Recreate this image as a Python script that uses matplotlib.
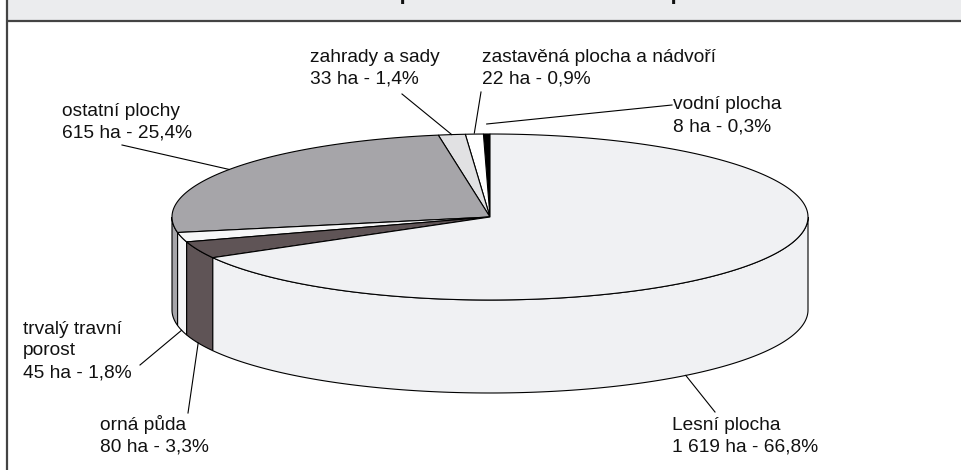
import numpy as np
import matplotlib
matplotlib.use("Agg")
import matplotlib.pyplot as plt
from matplotlib.patches import Polygon, Rectangle

plt.rcParams['font.family'] = ['Liberation Sans', 'DejaVu Sans']

# data, counter-clockwise from 12 o'clock
categories = ["vodní plocha", "zastavěná plocha a nádvoří", "zahrady a sady",
              "ostatní plochy", "trvalý travní\nporost", "orná půda", "Lesní plocha"]
hectares = [8, 22, 33, 615, 45, 80, 1619]
ha_labels = ["8", "22", "33", "615", "45", "80", "1 619"]
pct_labels = ["0,3%", "0,9%", "1,4%", "25,4%", "1,8%", "3,3%", "66,8%"]
colors = ["#000000", "#ffffff", "#e1e1e3", "#a6a5a9", "#f6f6f7", "#5f5456", "#f0f1f3"]
title = "Struktura ploch v území města Šumperk"

# layout (pixels)
W, H = 962, 470
cx, cy = 490, 217
ra, rb = 318, 83
depth = 93
# label text position (last baseline), leader start, anchor angle override
label_pos = [(673, 131), (482, 84), (310, 84), (62, 138), (23, 377), (100, 452), (672, 452)]
leader_from = [(672, 105), (481, 92), (402, 94), (122, 145), (140, 365), (188, 413), (715, 412)]
anchor_angle = [None, None, None, None, None, None, 308]
anchor_lift = [10, 1, 0, 0, 0, 0, 0]


def pt(theta, dy=0.0):
    t = np.radians(theta)
    return cx + ra * np.cos(t), cy - rb * np.sin(t) + dy


fig = plt.figure(figsize=(W / 100, H / 100), dpi=100)
ax = fig.add_axes([0, 0, 1, 1])
ax.set_xlim(0, W)
ax.set_ylim(H, 0)
ax.axis('off')

# frame / title bar
ax.add_patch(Rectangle((8, 0), W - 8, 20, facecolor="#ebecee", edgecolor="none"))
ax.plot([8, W], [20.5, 20.5], color="#444444", lw=1.6)
ax.plot([7.5, 7.5], [0, H], color="#444444", lw=1.6)
ax.text(506, -1, title, ha='center', va='baseline', fontsize=16, fontweight='bold', color='#111111')

total = float(sum(hectares))
angles = 360.0 * np.array(hectares) / total
starts = 90 + np.concatenate([[0], np.cumsum(angles)[:-1]])
ends = starts + angles

# side walls (front half only)
for s, e, c in zip(starts, ends, colors):
    for lo_f, hi_f in [(180, 360), (540, 720)]:
        lo, hi = max(s, lo_f), min(e, hi_f)
        if hi <= lo:
            continue
        th = np.linspace(lo, hi, 200)
        top = [pt(t) for t in th]
        bot = [pt(t, depth) for t in th[::-1]]
        ax.add_patch(Polygon(top + bot, closed=True, facecolor=c, edgecolor='black', lw=0.8))

# top faces
for s, e, c in zip(starts, ends, colors):
    th = np.linspace(s, e, max(int(e - s) * 2, 4))
    poly = [(cx, cy)] + [pt(t) for t in th]
    ax.add_patch(Polygon(poly, closed=True, facecolor=c, edgecolor='black', lw=0.8, joinstyle='miter'))

# labels and leader lines
for i, name in enumerate(categories):
    mid = (starts[i] + ends[i]) / 2 if anchor_angle[i] is None else anchor_angle[i]
    front = np.sin(np.radians(mid)) < 0
    ax_, ay_ = pt(mid, depth if front else 0)
    ay_ -= anchor_lift[i]
    x0, y0 = leader_from[i]
    ax.plot([x0, ax_], [y0, ay_], color='black', lw=0.8)
    tx, ty = label_pos[i]
    ax.text(tx, ty, f"{name}\n{ha_labels[i]} ha - {pct_labels[i]}", ha='left', va='baseline',
            fontsize=13.8, linespacing=1.35, color='#111111')

fig.savefig("out.png", dpi=100)
